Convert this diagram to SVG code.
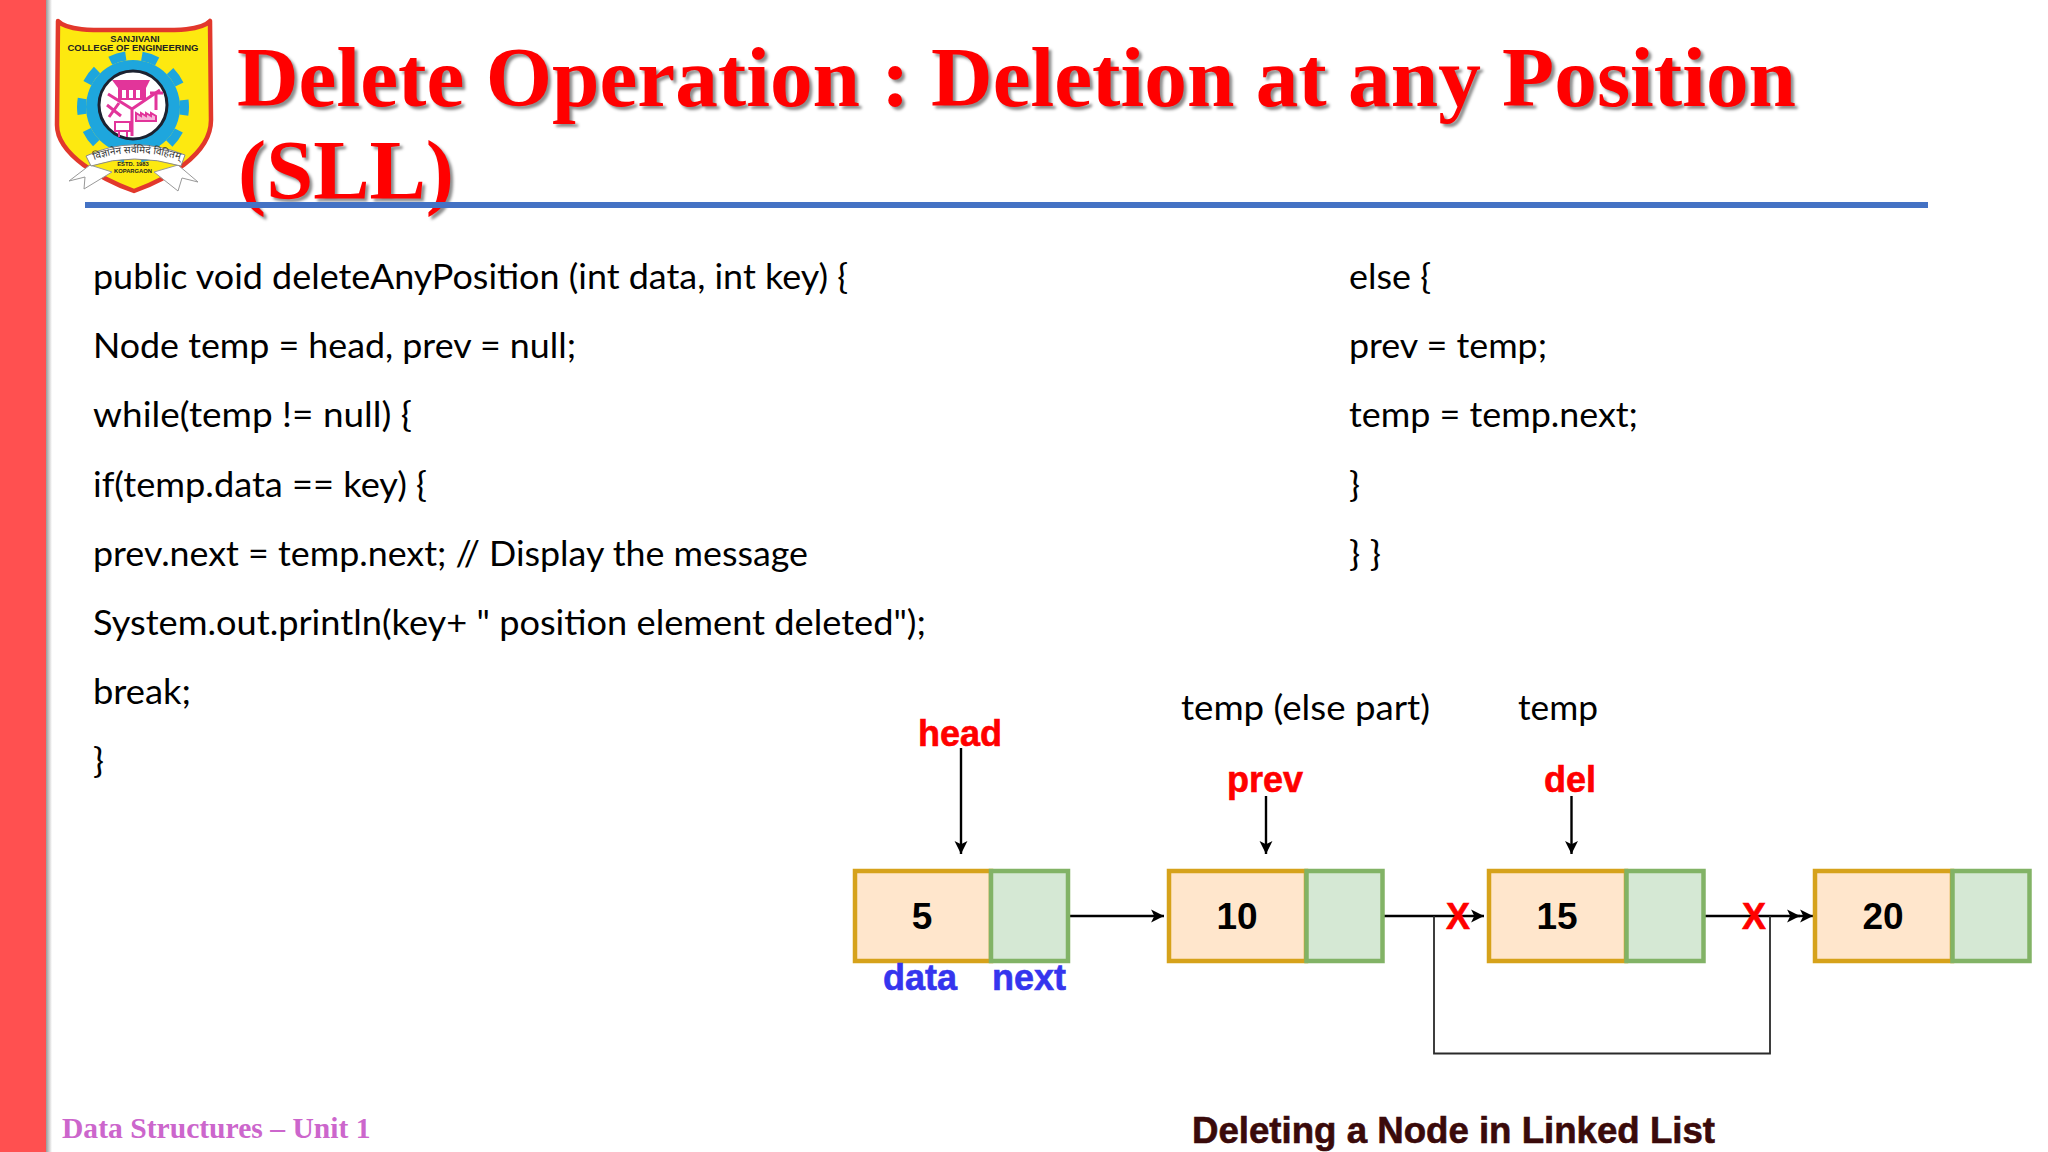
<svg xmlns="http://www.w3.org/2000/svg" width="2048" height="1152" viewBox="0 0 2048 1152">
<style>
.bg{fill:#fff}
.title{font:bold 85px "Liberation Serif",serif;fill:#f00;text-shadow:3px 3px 3px rgba(0,0,0,.45)}
.code{font-family:Lato,"Open Sans",sans-serif;font-size:34.5px;fill:#000}
.lbl{font:bold 36px "Liberation Sans",Arial,sans-serif;stroke-width:.6}
.red{fill:#f00;stroke:#f00}
.blue{fill:#3535ee;stroke:#3535ee}
.val{font:bold 37px "Liberation Sans",Arial,sans-serif;fill:#000;text-anchor:middle}
.data{fill:#ffe6cc;stroke:#d6a21b;stroke-width:4.5}
.next{fill:#d5e8d4;stroke:#82b366;stroke-width:4.5}
.wire{fill:none;stroke:#000;stroke-width:2.4}
.loop{fill:none;stroke:#2a2a2a;stroke-width:1.8}
.lg{font-family:"Liberation Sans",Arial,sans-serif;font-weight:bold;fill:#222;text-anchor:middle}
.pk{fill:none;stroke:#e2359a;stroke-width:3}
</style>
<defs>
<linearGradient id="barShade" x1="0" x2="1" y1="0" y2="0"><stop offset="0" stop-color="#999"/><stop offset="1" stop-color="#fff"/></linearGradient>
<marker id="arr" markerUnits="userSpaceOnUse" markerWidth="14" markerHeight="14" refX="12" refY="6.5" orient="auto" viewBox="0 0 13 13"><path d="M0 0.5L12 6.5L0 12.5L3 6.5Z" fill="#000"/></marker>
</defs>
<rect class="bg" width="2048" height="1152"/>
<g id="sidebar"><rect x="46" width="6" height="1152" fill="url(#barShade)"/><rect width="46" height="1152" fill="#ff5050"/></g>
<g id="logo">
<path d="M58 21C68 32 100 30 134 30C168 30 200 32 210 21L211 120C211 155 165 180 134 191C103 180 57 155 57 125Z" fill="#fde910" stroke="#e2382c" stroke-width="4.5" stroke-linejoin="round"/>
<circle cx="133" cy="107" r="47" fill="#1ea6dd"/>
<circle cx="133" cy="107" r="51.5" fill="none" stroke="#1ea6dd" stroke-width="9" stroke-dasharray="16.2 16.2" stroke-dashoffset="8"/>
<circle cx="133" cy="105" r="34" fill="#fff" stroke="#1c2230" stroke-width="3"/>
<path class="pk" d="M132 109L108 94M132 109L160 90M132 109V136" stroke-width="3.5"/>
<path d="M112 80H150L146 88V100H118V88Z" fill="#e2359a"/>
<path d="M122 90h4v8h-4zM129 90h4v8h-4zM136 90h4v8h-4z" fill="#fff"/>
<path d="M136 121V113L141 116V113L146 116V113L151 116V113L156 116V121Z" fill="#f7b6da" stroke="#e2359a" stroke-width="2"/>
<path class="pk" d="M156 94V110M150 93H163"/>
<path class="pk" d="M107 105L121 116M119 103L109 117"/>
<path d="M115 122H130V131H115ZM119 131V137M127 131V137" fill="none" stroke="#e2359a" stroke-width="2"/>
<path d="M90 165L69 181L85 177L84 189L112 172ZM178 165L198 182L182 178L178 191L154 172Z" fill="#fff" stroke="#999" stroke-width="1"/>
<path d="M86 156Q133 134 185 155L181 166Q133 152 91 166Z" fill="#fff" stroke="#8a8a8a" stroke-width="1"/>
<path id="motto" d="M94 160Q133 146 180 160" fill="none"/>
<text class="lg" x="135" y="42" font-size="9.4">SANJIVANI</text>
<text class="lg" x="133" y="51" font-size="9.4" textLength="131" lengthAdjust="spacingAndGlyphs">COLLEGE OF ENGINEERING</text>
<text class="lg" x="133" y="166" font-size="5.8">ESTD. 1983</text>
<text class="lg" x="133" y="173" font-size="5.8">KOPARGAON</text>
<text font-family="'Noto Sans',sans-serif" font-size="10" fill="#333"><textPath href="#motto">विज्ञानेन सर्वमिदं विहितम्</textPath></text>
</g>
<g id="heading">
<text class="title" x="237" y="106" textLength="1559" lengthAdjust="spacingAndGlyphs">Delete Operation : Deletion at any Position</text>
<text class="title" x="238" y="199" textLength="216" lengthAdjust="spacingAndGlyphs">(SLL)</text>
<rect x="85" y="202" width="1843" height="6" fill="#4472c4"/>
</g>
<g id="code-left">
<text class="code" x="93" y="289" textLength="755" lengthAdjust="spacingAndGlyphs">public void deleteAnyPosition (int data, int key) {</text>
<text class="code" x="93" y="358" textLength="483" lengthAdjust="spacingAndGlyphs">Node temp = head, prev = null;</text>
<text class="code" x="93" y="427" textLength="319" lengthAdjust="spacingAndGlyphs">while(temp != null) {</text>
<text class="code" x="93" y="496.500" textLength="334" lengthAdjust="spacingAndGlyphs">if(temp.data == key) {</text>
<text class="code" x="93" y="566" textLength="715" lengthAdjust="spacingAndGlyphs">prev.next = temp.next; // Display the message</text>
<text class="code" x="93" y="635" textLength="833" lengthAdjust="spacingAndGlyphs">System.out.println(key+ " position element deleted");</text>
<text class="code" x="93" y="704" textLength="98" lengthAdjust="spacingAndGlyphs">break;</text>
<text class="code" x="93" y="773" textLength="11" lengthAdjust="spacingAndGlyphs">}</text>
</g>
<g id="code-right">
<text class="code" x="1349" y="289" textLength="82" lengthAdjust="spacingAndGlyphs">else {</text>
<text class="code" x="1349" y="358" textLength="198" lengthAdjust="spacingAndGlyphs">prev = temp;</text>
<text class="code" x="1349" y="427" textLength="289" lengthAdjust="spacingAndGlyphs">temp = temp.next;</text>
<text class="code" x="1349" y="496.500" textLength="11" lengthAdjust="spacingAndGlyphs">}</text>
<text class="code" x="1349" y="566" textLength="32" lengthAdjust="spacingAndGlyphs">} }</text>
</g>
<g id="connectors">
<path class="wire" marker-end="url(#arr)" d="M961 748V854"/>
<path class="wire" marker-end="url(#arr)" d="M1266 796V854"/>
<path class="wire" marker-end="url(#arr)" d="M1571.500 796V854"/>
<path class="wire" marker-end="url(#arr)" d="M1070 916H1164"/>
<path class="wire" marker-end="url(#arr)" d="M1384 916H1484"/>
<path class="wire" marker-end="url(#arr)" d="M1704 916H1800"/>
<path class="wire" marker-end="url(#arr)" d="M1790 916H1813"/>
<path class="loop" d="M1434 916V1053.500H1770V916"/>
</g>
<g id="node-5"><rect class="data" x="855" y="871" width="136" height="90"/><rect class="next" x="991" y="871" width="77" height="90"/><text class="val" x="922" y="929">5</text></g>
<g id="node-10"><rect class="data" x="1169" y="871" width="137" height="90"/><rect class="next" x="1306.500" y="871" width="76" height="90"/><text class="val" x="1237" y="929">10</text></g>
<g id="node-15"><rect class="data" x="1489" y="871" width="137" height="90"/><rect class="next" x="1626.500" y="871" width="77" height="90"/><text class="val" x="1557" y="929">15</text></g>
<g id="node-20"><rect class="data" x="1815" y="871" width="137" height="90"/><rect class="next" x="1952.500" y="871" width="77" height="90"/><text class="val" x="1883" y="929">20</text></g>
<g id="labels">
<text class="code" x="1181" y="720" textLength="249" lengthAdjust="spacingAndGlyphs">temp (else part)</text>
<text class="code" x="1518" y="720" textLength="80" lengthAdjust="spacingAndGlyphs">temp</text>
<text class="lbl red" x="918" y="746">head</text>
<text class="lbl red" x="1227" y="792">prev</text>
<text class="lbl red" x="1544" y="792">del</text>
<text class="lbl blue" x="883" y="990">data</text>
<text class="lbl blue" x="992" y="990">next</text>
<text class="lbl red" x="1446" y="929">X</text>
<text class="lbl red" x="1742" y="929">X</text>
<text class="lbl" x="1192" y="1143" fill="#3a0a0a" stroke="#3a0a0a" textLength="523" lengthAdjust="spacingAndGlyphs">Deleting a Node in Linked List</text>
</g>
<text id="footer" x="62" y="1138" font-family="'Liberation Serif',serif" font-weight="bold" font-size="29.600" fill="#cc66cc">Data Structures – Unit 1</text>
</svg>
